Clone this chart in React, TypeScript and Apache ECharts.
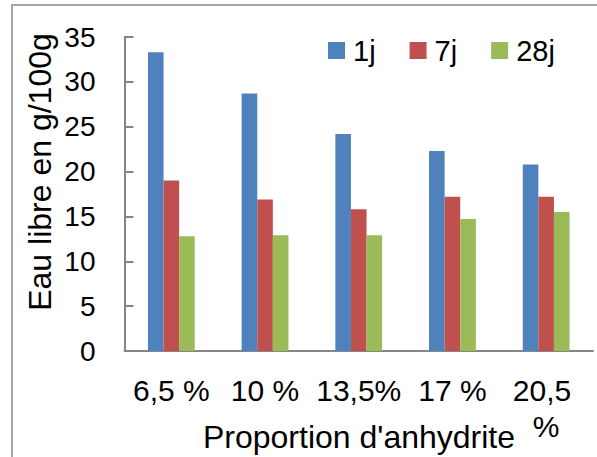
import React, { useEffect, useRef } from "react";
import * as echarts from "echarts";

const categories = ["6,5 %", "10 %", "13,5%", "17 %", "20,5 %"];
const seriesNames = ["1j", "7j", "28j"];
const values1j = [33.3, 28.7, 24.2, 22.3, 20.8];
const values7j = [19.0, 16.9, 15.8, 17.2, 17.2];
const values28j = [12.8, 12.9, 12.9, 14.7, 15.5];
const colors = ["#4F81BD", "#C0504D", "#9BBB59"];
const yTitle = "Eau libre en g/100g";
const xTitle = "Proportion d'anhydrite";

const FONT = "'Liberation Sans', Arial, sans-serif";

export default function App() {
  const ref = useRef<HTMLDivElement>(null);
  useEffect(() => {
    if (!ref.current) return;
    const chart = echarts.init(ref.current, undefined, { renderer: "svg" });
    const data = [values1j, values7j, values28j];
    chart.setOption({
      animation: false,
      backgroundColor: "#ffffff",
      grid: {
        left: 124.5,
        right: 4,
        top: 37,
        bottom: 106,
        containLabel: false,
        outerBoundsMode: "none",
      },
      legend: {
        data: seriesNames,
        left: 323,
        top: 31,
        itemWidth: 17,
        itemHeight: 17,
        itemGap: 34,
        icon: "rect",
        textStyle: {
          fontFamily: FONT,
          fontSize: 29,
          color: "#000",
          lineHeight: 19,
          padding: [0, 0, 0, 3],
        },
      },
      xAxis: {
        type: "category",
        data: categories,
        axisLine: { show: true, lineStyle: { color: "#868686", width: 2 } },
        axisTick: { show: false },
        axisLabel: {
          fontFamily: FONT,
          fontSize: 30,
          color: "#000",
          margin: 21,
          lineHeight: 36,
          width: 90,
          overflow: "break",
          interval: 0,
        },
      },
      yAxis: {
        type: "value",
        min: 0,
        max: 35,
        interval: 5,
        axisLine: { show: true, lineStyle: { color: "#868686", width: 2 } },
        axisTick: { show: true, inside: true, length: 9, lineStyle: { color: "#868686", width: 2 } },
        splitLine: { show: false },
        axisLabel: { fontFamily: FONT, fontSize: 28, color: "#000", margin: 29 },
      },
      series: seriesNames.map((name, i) => ({
        name,
        type: "bar",
        data: data[i],
        barWidth: 15.6,
        barGap: "0%",
        itemStyle: { color: colors[i] },
      })),
      graphic: [
        {
          type: "rect",
          shape: { x: 12, y: 5, width: 700, height: 600 },
          style: { fill: "none", stroke: "#a6a6a6", lineWidth: 2 },
          silent: true,
        },
        {
          type: "text",
          x: 40,
          y: 172,
          rotation: Math.PI / 2,
          style: {
            text: yTitle,
            fontFamily: FONT,
            fontSize: 32,
            fill: "#000",
            align: "center",
            verticalAlign: "middle",
          },
        },
        {
          type: "text",
          x: 359,
          y: 437,
          style: {
            text: xTitle,
            fontFamily: FONT,
            fontSize: 32,
            fill: "#000",
            align: "center",
            verticalAlign: "middle",
          },
        },
      ],
    });
    return () => chart.dispose();
  }, []);
  return (
    <div
      ref={ref}
      style={{ position: "absolute", left: 0, top: 0, width: 597, height: 457 }}
    />
  );
}
